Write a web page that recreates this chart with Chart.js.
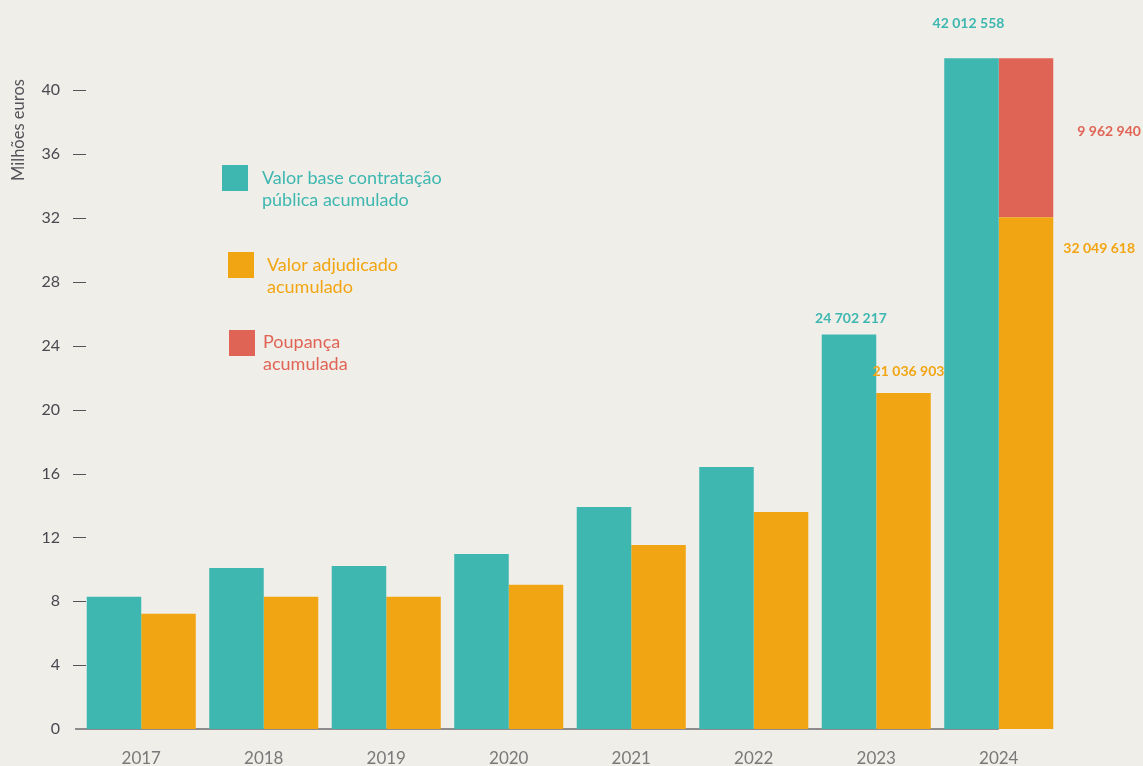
<!DOCTYPE html>
<html>
<head>
<meta charset="utf-8">
<script src="https://cdn.jsdelivr.net/npm/chart.js@4.4.1/dist/chart.umd.min.js"></script>
<style>
  html, body { margin: 0; padding: 0; background: #f0eee9; }
  #chart { display: block; }
</style>
</head>
<body>
<canvas id="chart" width="1143" height="766"></canvas>
<script>
// milhões de euros, valores acumulados
var years = ["2017", "2018", "2019", "2020", "2021", "2022", "2023", "2024"]
var baseValues = [8.28, 10.09, 10.21, 10.96, 13.9, 16.4, 24.702217, 42.012558]
var awardedValues = [7.21, 8.28, 8.28, 9.03, 11.52, 13.59, 21.036903, 32.049618]
var savingsValues = [null, null, null, null, null, null, null, 9.96294]
var yTicks = [0, 4, 8, 12, 16, 20, 24, 28, 32, 36, 40]
var legendLines = [
    ["Valor base contratação", "pública acumulado"],
    ["Valor adjudicado", "acumulado"],
    ["Poupança", "acumulada"]
]

var teal = "#3eb7b0"
var orange = "#f2a512"
var red = "#e06455"
var fontFamily = "Lato, 'Open Sans', sans-serif"

function fmtEuros(v){
    return String(Math.round(v * 1e6)).replace(/\B(?=(\d{3})+(?!\d))/g, " ")
}

var extras = {
    id: "extras",
    beforeDatasetsDraw(chart){
        // linha de base do eixo x (termina sob a barra de 2024)
        let ctx = chart.ctx
        let y = chart.scales.y.getPixelForValue(0)
        let xEnd = chart.scales.x.getPixelForValue(years.length - 1)
        ctx.save()
        ctx.strokeStyle = "#6d6a6c"
        ctx.lineWidth = 1.5
        ctx.beginPath()
        ctx.moveTo(chart.chartArea.left - 5, y)
        ctx.lineTo(xEnd, y)
        ctx.stroke()
        // traços dos ticks do eixo y
        ctx.strokeStyle = "#55525a"
        ctx.lineWidth = 1
        for (let t of yTicks){
            if (t == 0) continue
            let py = Math.round(chart.scales.y.getPixelForValue(t)) + 0.5
            ctx.beginPath()
            ctx.moveTo(chart.chartArea.left - 7, py)
            ctx.lineTo(chart.chartArea.left + 6, py)
            ctx.stroke()
        }
        ctx.restore()
    },
    afterDraw(chart){
        let ctx = chart.ctx
        ctx.save()
        // título do eixo y
        ctx.translate(19, 130)
        ctx.rotate(-Math.PI / 2)
        ctx.fillStyle = "#55525a"
        ctx.font = "16.5px " + fontFamily
        ctx.textAlign = "center"
        ctx.textBaseline = "middle"
        ctx.fillText("Milhões euros", 0, 0)
        ctx.restore()

        // etiquetas de valores
        let last = years.length - 1
        let tealMeta = chart.getDatasetMeta(0).data
        let orangeMeta = chart.getDatasetMeta(1).data
        let redMeta = chart.getDatasetMeta(2).data
        ctx.save()
        ctx.font = "bold 14px " + fontFamily
        ctx.textBaseline = "middle"
        ctx.textAlign = "center"
        ctx.fillStyle = teal
        ctx.fillText(fmtEuros(baseValues[last - 1]), tealMeta[last - 1].x + 2, tealMeta[last - 1].y - 16)
        ctx.fillText(fmtEuros(baseValues[last]), tealMeta[last].x - 3, tealMeta[last].y - 35)
        ctx.fillStyle = orange
        ctx.fillText(fmtEuros(awardedValues[last - 1]), orangeMeta[last - 1].x + 5, orangeMeta[last - 1].y - 22)
        ctx.textAlign = "left"
        let barRight = orangeMeta[last].x + orangeMeta[last].width / 2
        ctx.fillText(fmtEuros(awardedValues[last]), barRight + 10, orangeMeta[last].y + 31)
        ctx.fillStyle = red
        let r = redMeta[last]
        ctx.fillText(fmtEuros(savingsValues[last]), barRight + 24, (r.y + r.base) / 2 - 6)
        ctx.restore()

        // legenda
        let items = [
            {color: teal, sq: [222, 165], tx: [262, 178]},
            {color: orange, sq: [228, 252], tx: [267, 265]},
            {color: red, sq: [229, 330], tx: [263, 342]}
        ]
        ctx.save()
        ctx.font = "18px " + fontFamily
        ctx.textAlign = "left"
        ctx.textBaseline = "middle"
        items.forEach((it, i) => {
            ctx.fillStyle = it.color
            ctx.fillRect(it.sq[0], it.sq[1], 26, 26)
            legendLines[i].forEach((line, j) => {
                ctx.fillText(line, it.tx[0], it.tx[1] + j * 22)
            })
        })
        ctx.restore()
    }
}

window.onload = function () {
    let ctx = document.getElementById("chart").getContext("2d")
    new Chart(ctx, {
        type: "bar",
        data: {
            labels: years,
            datasets: [
                {label: "Valor base contratação pública acumulado", data: baseValues, backgroundColor: teal, stack: "base"},
                {label: "Valor adjudicado acumulado", data: awardedValues, backgroundColor: orange, stack: "adj"},
                {label: "Poupança acumulada", data: savingsValues, backgroundColor: red, stack: "adj"}
            ]
        },
        options: {
            responsive: false,
            animation: false,
            categoryPercentage: 0.89,
            barPercentage: 1,
            layout: { padding: { top: 16, right: 83, left: 0, bottom: 0 } },
            plugins: {
                legend: { display: false },
                tooltip: { enabled: false }
            },
            scales: {
                x: {
                    grid: { display: false, drawTicks: false },
                    border: { display: false },
                    ticks: { color: "#7a7879", font: { family: fontFamily, size: 17 }, padding: 19 },
                    afterFit: (s) => { s.height = 37 }
                },
                y: {
                    stacked: true,
                    min: 0,
                    max: 43.8,
                    grid: { display: false, drawTicks: false },
                    border: { display: false },
                    ticks: { stepSize: 4, color: "#4a4750", font: { family: fontFamily, size: 16 }, padding: 20 },
                    afterBuildTicks: (s) => { s.ticks = yTicks.map(v => ({value: v})) },
                    afterFit: (s) => { s.width = 80 }
                }
            }
        },
        plugins: [extras]
    })
}
</script>
</body>
</html>
